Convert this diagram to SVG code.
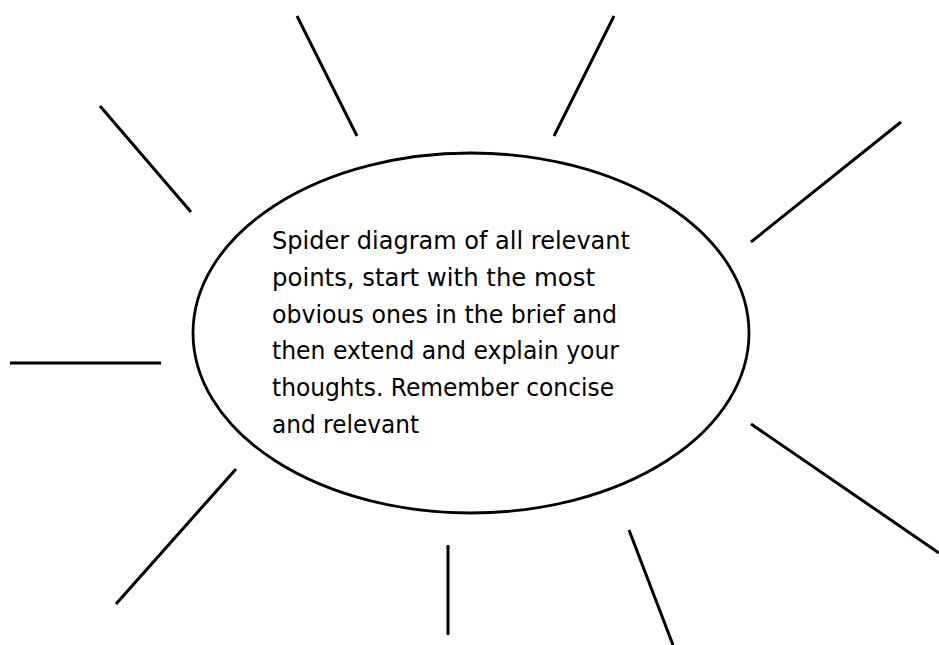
<svg xmlns="http://www.w3.org/2000/svg" width="939" height="645" viewBox="0 0 939 645">
<style>
.ray{stroke:#000;stroke-width:3;fill:none;stroke-linecap:butt}
.hub{fill:#fff;stroke:#000;stroke-width:2.8}
.t{font-family:"DejaVu Sans","Liberation Sans",sans-serif;font-size:24px;fill:#000}
</style>
<rect width="939" height="645" fill="#fff"/>
<g id="connectors">
<line class="ray" x1="297" y1="16" x2="357" y2="136"/>
<line class="ray" x1="614" y1="16" x2="554" y2="136"/>
<line class="ray" x1="100" y1="106" x2="191" y2="212"/>
<line class="ray" x1="901" y1="122" x2="751" y2="242"/>
<line class="ray" x1="10" y1="363" x2="161" y2="363"/>
<line class="ray" x1="751" y1="424" x2="939" y2="553"/>
<line class="ray" x1="236" y1="469" x2="116" y2="604"/>
<line class="ray" x1="448" y1="545" x2="448" y2="635"/>
<line class="ray" x1="629" y1="530" x2="673" y2="645"/>
</g>
<g id="center">
<ellipse class="hub" cx="471" cy="333" rx="278" ry="180"/>
<text class="t" x="272" y="249" textLength="358" lengthAdjust="spacingAndGlyphs">Spider diagram of all relevant</text>
<text class="t" x="272" y="286" textLength="323" lengthAdjust="spacingAndGlyphs">points, start with the most</text>
<text class="t" x="272" y="323" textLength="345" lengthAdjust="spacingAndGlyphs">obvious ones in the brief and</text>
<text class="t" x="272" y="359" textLength="347" lengthAdjust="spacingAndGlyphs">then extend and explain your</text>
<text class="t" x="272" y="396" textLength="342" lengthAdjust="spacingAndGlyphs">thoughts. Remember concise</text>
<text class="t" x="272" y="433" textLength="147" lengthAdjust="spacingAndGlyphs">and relevant</text>
</g>
</svg>
